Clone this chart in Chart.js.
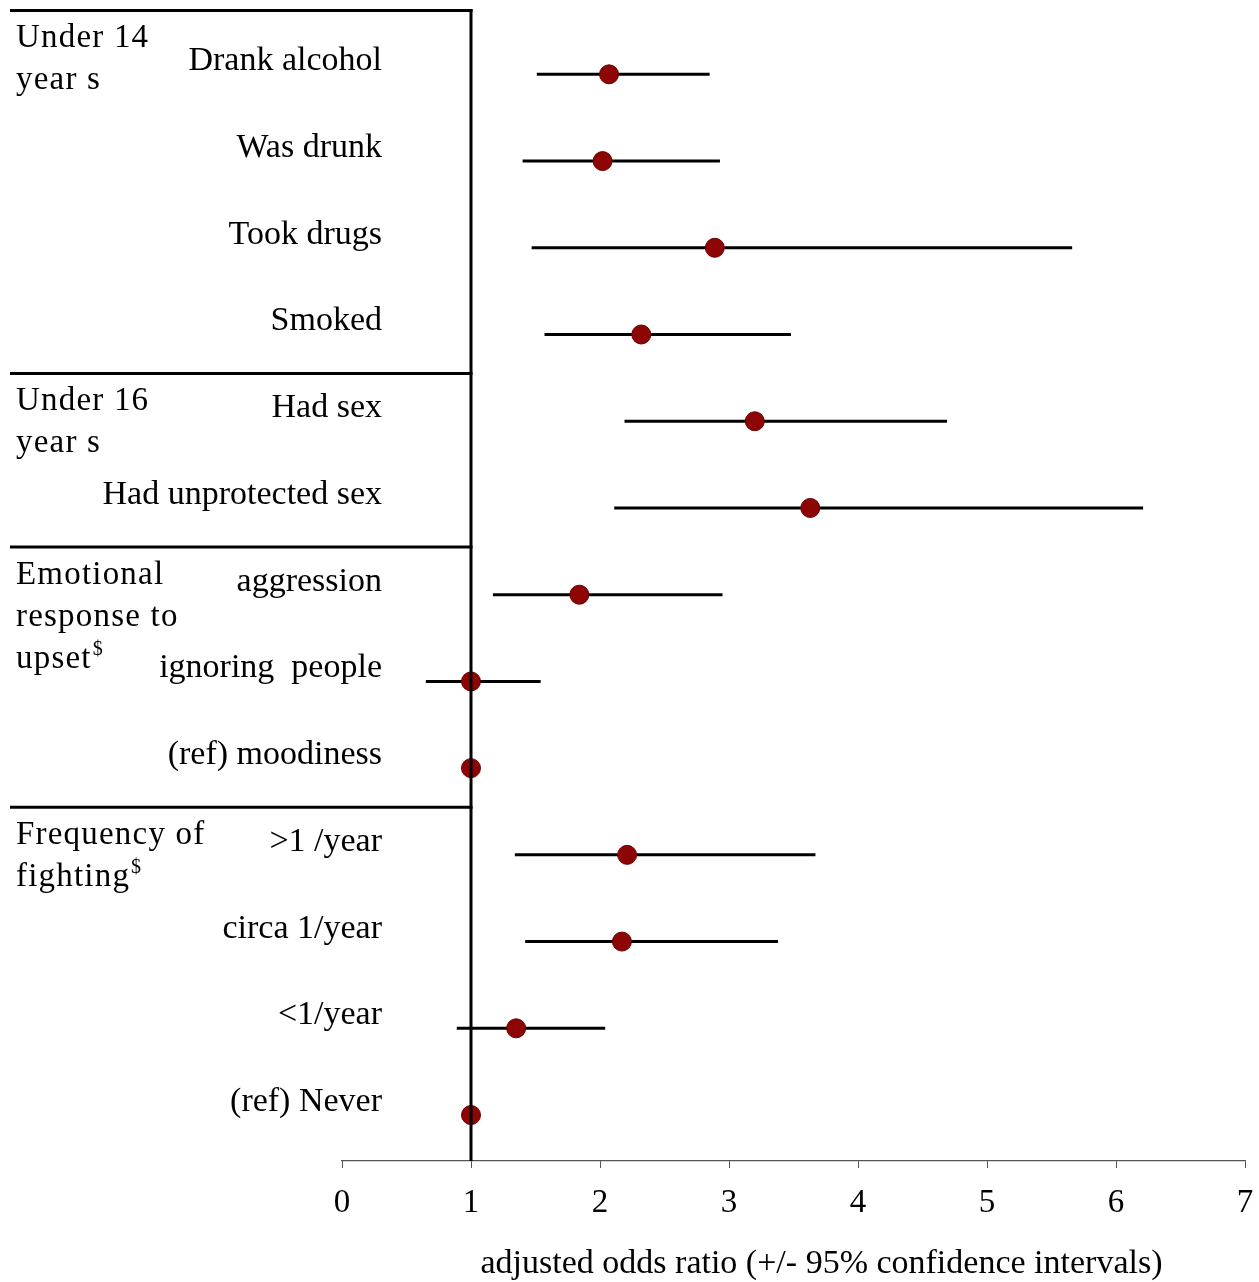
<!DOCTYPE html>
<html>
<head>
<meta charset="utf-8">
<script src="https://cdn.jsdelivr.net/npm/chart.js@4.4.1/dist/chart.umd.min.js"></script>
<style>
  html, body { margin: 0; padding: 0; background: #ffffff; }
  #wrap { width: 1259px; height: 1282px; }
</style>
</head>
<body>
<div id="wrap"><canvas id="c" width="1259" height="1282"></canvas></div>
<script>
// ---- data ----
const categories = ["Drank alcohol", "Was drunk", "Took drugs", "Smoked", "Had sex", "Had unprotected sex",
  "aggression", "ignoring  people", "(ref) moodiness", ">1 /year", "circa 1/year", "<1/year", "(ref) Never"];
const oddsRatio = [2.07, 2.02, 2.89, 2.32, 3.20, 3.63, 1.84, 1.00, 1.00, 2.21, 2.17, 1.35, 1.00];
const ciLower   = [1.51, 1.40, 1.47, 1.57, 2.19, 2.11, 1.17, 0.65, null, 1.34, 1.42, 0.89, null];
const ciUpper   = [2.85, 2.93, 5.66, 3.48, 4.69, 6.21, 2.95, 1.54, null, 3.67, 3.38, 2.04, null];
const groupLabels = [["Under 14", "year s"], ["Under 16", "year s"], ["Emotional", "response to", "upset$"], ["Frequency of", "fighting$"]];
const groupStart = [0, 4, 6, 9];
const xTicks = [0, 1, 2, 3, 4, 5, 6, 7];
const refValue = 1;
const axisTitle = "adjusted odds ratio (+/- 95% confidence intervals)";

const SERIF = '"Liberation Serif", "Times New Roman", serif';

const ciDatasets = [];
categories.forEach((c, i) => {
  if (ciLower[i] !== null && ciUpper[i] !== null) {
    ciDatasets.push({
      label: c + ' CI',
      data: [{ x: ciLower[i], y: i }, { x: ciUpper[i], y: i }],
      showLine: true,
      borderColor: '#000000',
      borderWidth: 3,
      pointRadius: 0,
      pointHoverRadius: 0,
      fill: false
    });
  }
});

const pointDataset = {
  label: 'adjusted odds ratio',
  data: oddsRatio.map((v, i) => ({ x: v, y: i })),
  pointRadius: 9.5,
  pointHoverRadius: 9.5,
  backgroundColor: '#8e0505',
  borderColor: '#6a0000',
  borderWidth: 1,
  showLine: false
};

const panelPlugin = {
  id: 'panel',
  afterDraw(chart) {
    const { ctx, chartArea, scales: { x, y } } = chart;
    const refX = x.getPixelForValue(refValue);
    ctx.save();
    ctx.strokeStyle = '#000000';
    ctx.lineWidth = 3;
    // reference / panel vertical line
    ctx.beginPath();
    ctx.moveTo(refX, chartArea.top - 1.5);
    ctx.lineTo(refX, chartArea.bottom);
    ctx.stroke();
    // group separator lines
    const tops = groupStart.map((s, g) => g === 0 ? chartArea.top : y.getPixelForValue(s - 0.55));
    tops.forEach(py => {
      ctx.beginPath();
      ctx.moveTo(10, py);
      ctx.lineTo(refX + 1.5, py);
      ctx.stroke();
    });
    // row labels
    const mainFont = '34px ' + SERIF;
    const groupFont = '33px ' + SERIF;
    ctx.fillStyle = '#000000';
    ctx.font = mainFont;
    ctx.textAlign = 'right';
    ctx.textBaseline = 'middle';
    categories.forEach((c, i) => {
      ctx.fillText(c, 382, y.getPixelForValue(i) - 13);
    });
    // group labels
    ctx.textAlign = 'left';
    ctx.font = groupFont;
    if ('letterSpacing' in ctx) ctx.letterSpacing = '1.2px';
    groupLabels.forEach((lines, g) => {
      lines.forEach((t, k) => {
        const py = tops[g] + 28 + k * 42;
        if (t.endsWith('$')) {
          const base = t.slice(0, -1);
          ctx.font = groupFont;
          ctx.fillText(base, 16, py);
          const w = ctx.measureText(base).width;
          ctx.font = '20px ' + SERIF;
          ctx.fillText('$', 16 + w + 1, py - 9);
          ctx.font = groupFont;
        } else {
          ctx.fillText(t, 16, py);
        }
      });
    });
    if ('letterSpacing' in ctx) ctx.letterSpacing = '0px';
    // axis title
    ctx.font = mainFont;
    ctx.textAlign = 'center';
    ctx.fillText(axisTitle, (x.left + x.right) / 2 + 28, x.bottom + 24);
    ctx.restore();
  }
};

new Chart(document.getElementById('c'), {
  type: 'scatter',
  data: { datasets: [pointDataset, ...ciDatasets] },
  options: {
    responsive: false,
    animation: false,
    events: [],
    layout: { padding: { left: 342, right: 14, top: 10, bottom: 42.4 } },
    plugins: { legend: { display: false }, tooltip: { enabled: false } },
    scales: {
      x: {
        type: 'linear',
        min: 0,
        max: 7,
        afterBuildTicks(axis) { axis.ticks = xTicks.map(v => ({ value: v })); },
        afterFit(axis) { axis.paddingLeft = 0; axis.paddingRight = 0; },
        ticks: {
          font: { family: SERIF, size: 33 },
          color: '#000000',
          padding: 16,
          maxRotation: 0
        },
        grid: {
          display: true,
          drawOnChartArea: false,
          drawTicks: true,
          tickLength: 7,
          color: '#555555',
          lineWidth: 1
        },
        border: { display: true, color: '#555555', width: 1.2 }
      },
      y: {
        type: 'linear',
        reverse: true,
        min: -0.736,
        max: 12.53,
        display: false
      }
    }
  },
  plugins: [panelPlugin]
});
</script>
</body>
</html>
